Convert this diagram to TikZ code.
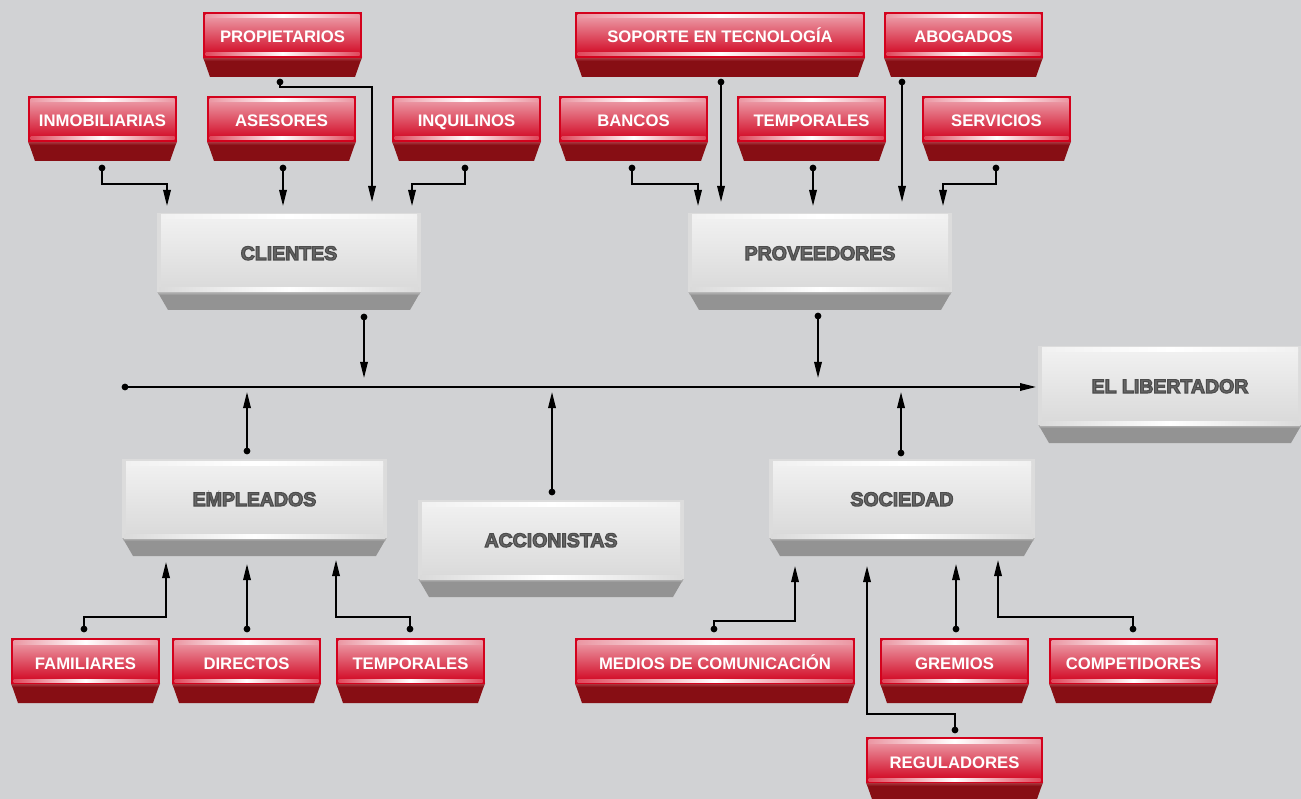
\documentclass[tikz,border=0pt]{standalone}
\usepackage{fontspec}
\setmainfont{Liberation Sans}
\usetikzlibrary{arrows.meta}
\definecolor{bg}{HTML}{D1D2D4}
\definecolor{rborder}{HTML}{D3021D}
\definecolor{rtop}{HTML}{EB97A3}
\definecolor{rbot}{HTML}{D30F2A}
\definecolor{rhl}{HTML}{E0485C}
\definecolor{rdark}{HTML}{870E14}
\definecolor{rdarkhi}{HTML}{B04048}
\definecolor{gborder}{HTML}{DCDCDC}
\definecolor{gtop}{HTML}{F1F1F1}
\definecolor{gbot}{HTML}{DADADA}
\definecolor{gdark}{HTML}{939393}
\definecolor{gdarkhi}{HTML}{C4C4C4}
\definecolor{gtext}{HTML}{676767}
% text drawn once, filled and outlined (PDF text render mode 2)
\newcommand{\outl}[3]{\special{pdf:literal direct #1 RG #2 w 2 Tr}#3\special{pdf:literal direct 0 Tr}}
\tikzset{
  conn/.style={line width=1.7pt, -{Triangle[length=16pt,width=7.5pt]}},
  rtx/.style={text=white, font=\bfseries\fontsize{16.7}{18}\selectfont, inner sep=0pt, anchor=base},
  gtx/.style={text=gtext, font=\bfseries\fontsize{19.5}{21}\selectfont, inner sep=0pt, anchor=base},
}
% name, x1, x2, ytop, text
\newcommand{\RBox}[5]{%
  \fill[rdark] (#2,{#4+45}) -- (#3,{#4+45}) -- ({#3-7},{#4+65}) -- ({#2+7},{#4+65}) -- cycle;
  \shade[top color=rdarkhi, bottom color=rdark] (#2,{#4+45}) -- (#3,{#4+45}) -- ({#3-1.4},{#4+49}) -- ({#2+1.4},{#4+49}) -- cycle;
  \fill[rborder] (#2,#4) rectangle (#3,{#4+46});
  \shade[top color=rtop, bottom color=rbot] ({#2+2.5},{#4+5}) rectangle ({#3-2.5},{#4+41});
  \shade[left color=rtop, right color=rtop, middle color=white] ({#2+2.5},{#4+2.5}) rectangle ({#3-2.5},{#4+6});
  \shade[left color=rhl, right color=rhl, middle color=white] ({#2+2.5},{#4+41}) rectangle ({#3-2.5},{#4+44});
  \node[rtx] (#1) at ({(#2+#3)/2},{#4+31}) {#5};
}
\newcommand{\GBox}[5]{%
  \fill[gdark] (#2,{#4+78}) -- (#3,{#4+78}) -- ({#3-11},{#4+97}) -- ({#2+11},{#4+97}) -- cycle;
  \shade[top color=gdarkhi, bottom color=gdark] (#2,{#4+78}) -- (#3,{#4+78}) -- ({#3-2},{#4+82}) -- ({#2+2},{#4+82}) -- cycle;
  \fill[gborder] (#2,#4) rectangle (#3,{#4+79});
  \shade[top color=gtop, bottom color=gbot] ({#2+4},{#4+4}) rectangle ({#3-4},{#4+75});
  \shade[left color=gtop, right color=gtop, middle color=white] ({#2+4},{#4+2}) rectangle ({#3-4},{#4+6});
  \shade[left color=gbot, right color=gbot, middle color=white] ({#2+2},{#4+75}) rectangle ({#3-2},{#4+79});
  \node[gtx] (#1) at ({(#2+#3)/2},{#4+47}) {\outl{0.3 0.3 0.3}{1.1}{#5}};
}
\begin{document}
\begin{tikzpicture}[x=1pt,y=-1pt]
\fill[bg] (0,0) rectangle (1301,799);
\useasboundingbox (0,0) rectangle (1301,799);

% gray boxes
\GBox{clientes}{157}{421}{213}{CLIENTES}
\GBox{proveedores}{688}{952}{213}{PROVEEDORES}
\GBox{libertador}{1038}{1302}{346}{EL LIBERTADOR}
\GBox{empleados}{122}{387}{459}{EMPLEADOS}
\GBox{accionistas}{418}{684}{500}{ACCIONISTAS}
\GBox{sociedad}{769}{1035}{459}{SOCIEDAD}

% red boxes
\RBox{propietarios}{203}{362}{12}{PROPIETARIOS}
\RBox{soporte}{575}{865}{12}{SOPORTE EN TECNOLOGÍA}
\RBox{abogados}{884}{1043}{12}{ABOGADOS}
\RBox{inmob}{28}{177}{96}{INMOBILIARIAS}
\RBox{asesores}{207}{356}{96}{ASESORES}
\RBox{inquil}{392}{541}{96}{INQUILINOS}
\RBox{bancos}{559}{708}{96}{BANCOS}
\RBox{tempP}{737}{886}{96}{TEMPORALES}
\RBox{servicios}{922}{1071}{96}{SERVICIOS}
\RBox{familiares}{11}{160}{638}{FAMILIARES}
\RBox{directos}{172}{321}{638}{DIRECTOS}
\RBox{tempE}{336}{485}{638}{TEMPORALES}
\RBox{medios}{575}{855}{638}{MEDIOS DE COMUNICACIÓN}
\RBox{gremios}{880}{1029}{638}{GREMIOS}
\RBox{competidores}{1049}{1218}{638}{COMPETIDORES}
\RBox{reguladores}{866}{1043}{737}{REGULADORES}

% connector coordinates
\coordinate (inmob-o) at (102,168);   \coordinate (clientes-i1) at (167,206);
\coordinate (asesores-o) at (283,168); \coordinate (clientes-i2) at (283,206);
\coordinate (propietarios-o) at (280,82); \coordinate (clientes-i3) at (372,202);
\coordinate (inquil-o) at (465,168);  \coordinate (clientes-i4) at (412,206);
\coordinate (bancos-o) at (632,168);  \coordinate (proveedores-i1) at (698,206);
\coordinate (soporte-o) at (721,82);  \coordinate (proveedores-i2) at (721,202);
\coordinate (tempP-o) at (813,168);   \coordinate (proveedores-i3) at (813,206);
\coordinate (abogados-o) at (902,82); \coordinate (proveedores-i4) at (902,202);
\coordinate (servicios-o) at (996,168); \coordinate (proveedores-i5) at (943,206);
\coordinate (clientes-o) at (364,317); \coordinate (axis-c) at (364,378);
\coordinate (proveedores-o) at (818,316); \coordinate (axis-p) at (818,378);
\coordinate (axis-start) at (125,387); \coordinate (libertador-i) at (1036,387);
\coordinate (empleados-o) at (247,451); \coordinate (axis-e) at (247,392);
\coordinate (accionistas-o) at (552,492); \coordinate (axis-a) at (552,392);
\coordinate (sociedad-o) at (901,453); \coordinate (axis-s) at (901,392);
\coordinate (familiares-o) at (84,629); \coordinate (empleados-i1) at (166,562);
\coordinate (directos-o) at (247,629); \coordinate (empleados-i2) at (247,564);
\coordinate (tempE-o) at (410,629); \coordinate (empleados-i3) at (336,560);
\coordinate (medios-o) at (714,629); \coordinate (sociedad-i1) at (795,566);
\coordinate (reguladores-o) at (955,730); \coordinate (sociedad-i2) at (867,566);
\coordinate (gremios-o) at (956,629); \coordinate (sociedad-i3) at (956,564);
\coordinate (competidores-o) at (1133,629); \coordinate (sociedad-i4) at (998,560);

% connectors
\draw[conn] (inmob-o) -- ++(0,16) -| (clientes-i1);
\draw[conn] (asesores-o) -- (clientes-i2);
\draw[conn] (propietarios-o) -- ++(0,5) -| (clientes-i3);
\draw[conn] (inquil-o) -- ++(0,16) -| (clientes-i4);
\draw[conn] (bancos-o) -- ++(0,16) -| (proveedores-i1);
\draw[conn] (soporte-o) -- (proveedores-i2);
\draw[conn] (tempP-o) -- (proveedores-i3);
\draw[conn] (abogados-o) -- (proveedores-i4);
\draw[conn] (servicios-o) -- ++(0,16) -| (proveedores-i5);
\draw[conn] (clientes-o) -- (axis-c);
\draw[conn] (proveedores-o) -- (axis-p);
\draw[conn] (axis-start) -- (libertador-i);
\draw[conn] (empleados-o) -- (axis-e);
\draw[conn] (accionistas-o) -- (axis-a);
\draw[conn] (sociedad-o) -- (axis-s);
\draw[conn] (familiares-o) -- ++(0,-12) -| (empleados-i1);
\draw[conn] (directos-o) -- (empleados-i2);
\draw[conn] (tempE-o) -- ++(0,-12) -| (empleados-i3);
\draw[conn] (medios-o) -- ++(0,-8) -| (sociedad-i1);
\draw[conn] (reguladores-o) -- ++(0,-16) -| (sociedad-i2);
\draw[conn] (gremios-o) -- (sociedad-i3);
\draw[conn] (competidores-o) -- ++(0,-12) -| (sociedad-i4);

% dots
\foreach \p in {inmob-o,asesores-o,propietarios-o,inquil-o,bancos-o,soporte-o,tempP-o,abogados-o,servicios-o,clientes-o,proveedores-o,axis-start,empleados-o,accionistas-o,sociedad-o,familiares-o,directos-o,tempE-o,medios-o,reguladores-o,gremios-o,competidores-o}
  \fill (\p) circle (3.4pt);
\end{tikzpicture}
\end{document}
